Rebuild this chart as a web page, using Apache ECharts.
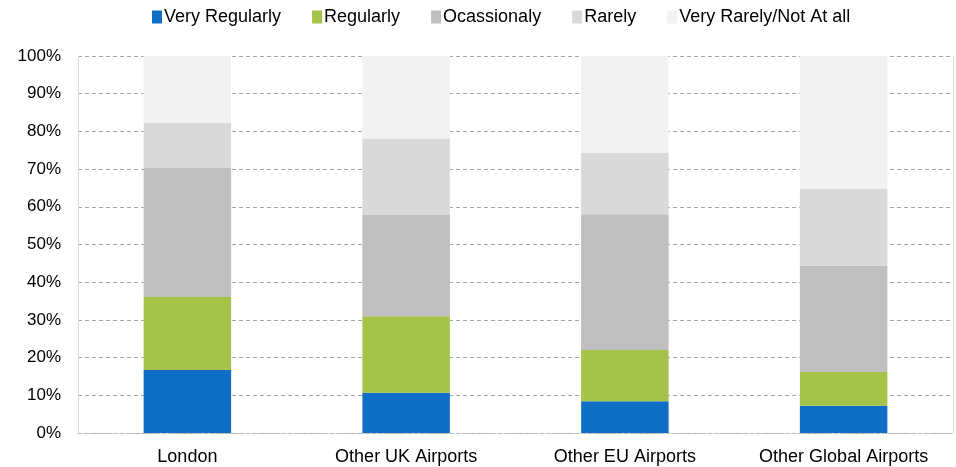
<!DOCTYPE html>
<html>
<head>
    <meta charset="utf-8">
    <script src="https://cdn.jsdelivr.net/npm/echarts@6/dist/echarts.min.js"></script>
    <style>
        html, body { margin: 0; padding: 0; background: #fff; }
        #main { width: 956px; height: 467px; }
    </style>
</head>
<body>
<div id="main"></div>
<script>
    // categories and series (percent of respondents)
    var airports = ['London', 'Other UK Airports', 'Other EU Airports', 'Other Global Airports'];
    var veryRegularly = [16.7, 10.7, 8.4, 7.2];
    var regularly = [19.4, 20.3, 13.6, 9.0];
    var ocassionaly = [34.2, 26.8, 36.0, 28.2];
    var rarely = [11.9, 20.3, 16.3, 20.3];
    var veryRarely = [17.8, 21.9, 25.7, 35.3];

    var seriesNames = ['Very Regularly', 'Regularly', 'Ocassionaly', 'Rarely', 'Very Rarely/Not At all'];
    var seriesData = [veryRegularly, regularly, ocassionaly, rarely, veryRarely];
    var colors = ['#0F6FC6', '#A5C249', '#BFBFBF', '#D9D9D9', '#F2F2F2'];

    var font = 'Liberation Sans';

    var series = [];
    for (var i = 0; i < seriesNames.length; i++) {
        series.push({
            name: seriesNames[i],
            type: 'bar',
            stack: 'total',
            barWidth: '40%',
            data: seriesData[i],
            itemStyle: { color: colors[i] }
        });
    }

    var myChart = echarts.init(document.getElementById('main'));
    myChart.setOption({
        animation: false,
        color: colors,
        textStyle: { fontFamily: font },
        legend: {
            top: 3,
            left: 147,
            itemWidth: 10,
            itemHeight: 13,
            itemGap: 31,
            icon: 'rect',
            textStyle: { fontSize: 18, color: '#000', fontFamily: font, padding: [0, 0, 0, -3] },
            data: seriesNames
        },
        grid: { left: 78, right: 3, top: 56, bottom: 34 },
        xAxis: {
            type: 'category',
            data: airports,
            axisTick: { show: false },
            axisLine: { lineStyle: { color: '#BFBFBF', type: 'dashed' } },
            axisLabel: { interval: 0, fontSize: 18, color: '#000', margin: 15, fontFamily: font }
        },
        yAxis: [{
            type: 'value',
            min: 0,
            max: 100,
            interval: 10,
            axisLine: { show: true, lineStyle: { color: '#D9D9D9' } },
            axisTick: { show: false },
            axisLabel: { formatter: '{value}%', fontSize: 17, color: '#000', margin: 17, fontFamily: font },
            splitLine: { lineStyle: { color: '#A6A6A6', type: [4, 3] } }
        }, {
            type: 'value',
            min: 0,
            max: 100,
            position: 'right',
            axisLine: { show: true, lineStyle: { color: '#D9D9D9' } },
            axisTick: { show: false },
            axisLabel: { show: false },
            splitLine: { show: false }
        }],
        series: series
    });
</script>
</body>
</html>
